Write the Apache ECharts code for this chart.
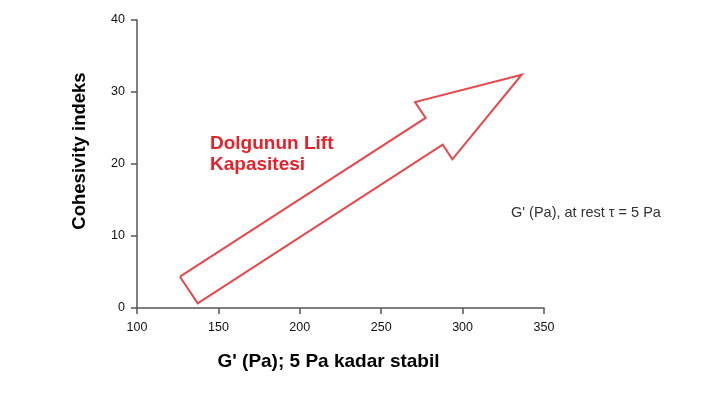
<!DOCTYPE html>
<html>
<head>
<meta charset="utf-8">
<script src="https://cdn.jsdelivr.net/npm/echarts@6/dist/echarts.min.js"></script>
<style>html,body{margin:0;padding:0;background:#fff}#c{width:722px;height:395px}</style>
</head>
<body>
<div id="c"></div>
<script>
// Arrow outline (G', cohesivity) vertices, closed
const arrowX = [126.4, 137.3, 287.8, 293.7, 336.3, 270.8, 277.3, 126.4];
const arrowY = [4.35, 0.65, 22.7, 20.65, 32.4, 28.6, 26.4, 4.35];
const xTicks = [100, 150, 200, 250, 300, 350];
const yTicks = [0, 10, 20, 30, 40];
const xTitle = "G' (Pa); 5 Pa kadar stabil";
const yTitle = "Cohesivity indeks";
const arrowLabel = "Dolgunun Lift\nKapasitesi";
const noteLabel = "G' (Pa), at rest τ = 5 Pa";

const chart = echarts.init(document.getElementById('c'), null, {renderer: 'canvas'});
const font = 'Liberation Sans, Arial, sans-serif';
chart.setOption({
  animation: false,
  backgroundColor: '#fff',
  grid: {left: 137, right: 178, top: 20, bottom: 87},
  xAxis: {
    type: 'value', min: xTicks[0], max: xTicks[xTicks.length - 1], interval: 50,
    name: xTitle, nameLocation: 'middle', nameGap: 44,
    nameTextStyle: {fontFamily: font, fontWeight: 'bold', fontSize: 19, color: '#000', padding: [0, 24, 0, 0]},
    axisLine: {lineStyle: {color: '#555', width: 1.5}},
    axisTick: {length: 6, lineStyle: {color: '#555', width: 1.5}},
    axisLabel: {fontFamily: font, fontSize: 12.5, color: '#111', margin: 13},
    splitLine: {show: false}
  },
  yAxis: {
    type: 'value', min: yTicks[0], max: yTicks[yTicks.length - 1], interval: 10,
    name: yTitle, nameLocation: 'middle', nameGap: 48,
    nameTextStyle: {fontFamily: font, fontWeight: 'bold', fontSize: 18.5, color: '#000', padding: [0, 0, 0, 26]},
    axisLine: {show: true, lineStyle: {color: '#555', width: 1.5}},
    axisTick: {show: true, length: 6, lineStyle: {color: '#555', width: 1.5}},
    axisLabel: {fontFamily: font, fontSize: 12.5, color: '#111', margin: 12},
    splitLine: {show: false}
  },
  series: [{
    type: 'line',
    data: arrowX.map((x, i) => [x, arrowY[i]]),
    symbol: 'none',
    lineStyle: {color: '#e8474b', width: 2, join: 'miter'},
    silent: true
  }],
  graphic: [
    {type: 'text', left: 210, top: 133,
     style: {text: arrowLabel, fill: '#e8202a', font: 'bold 19px ' + font, lineHeight: 21.5}},
    {type: 'text', left: 511, top: 205,
     style: {text: noteLabel, fill: '#333', font: '14.5px ' + font}}
  ]
});
</script>
</body>
</html>
